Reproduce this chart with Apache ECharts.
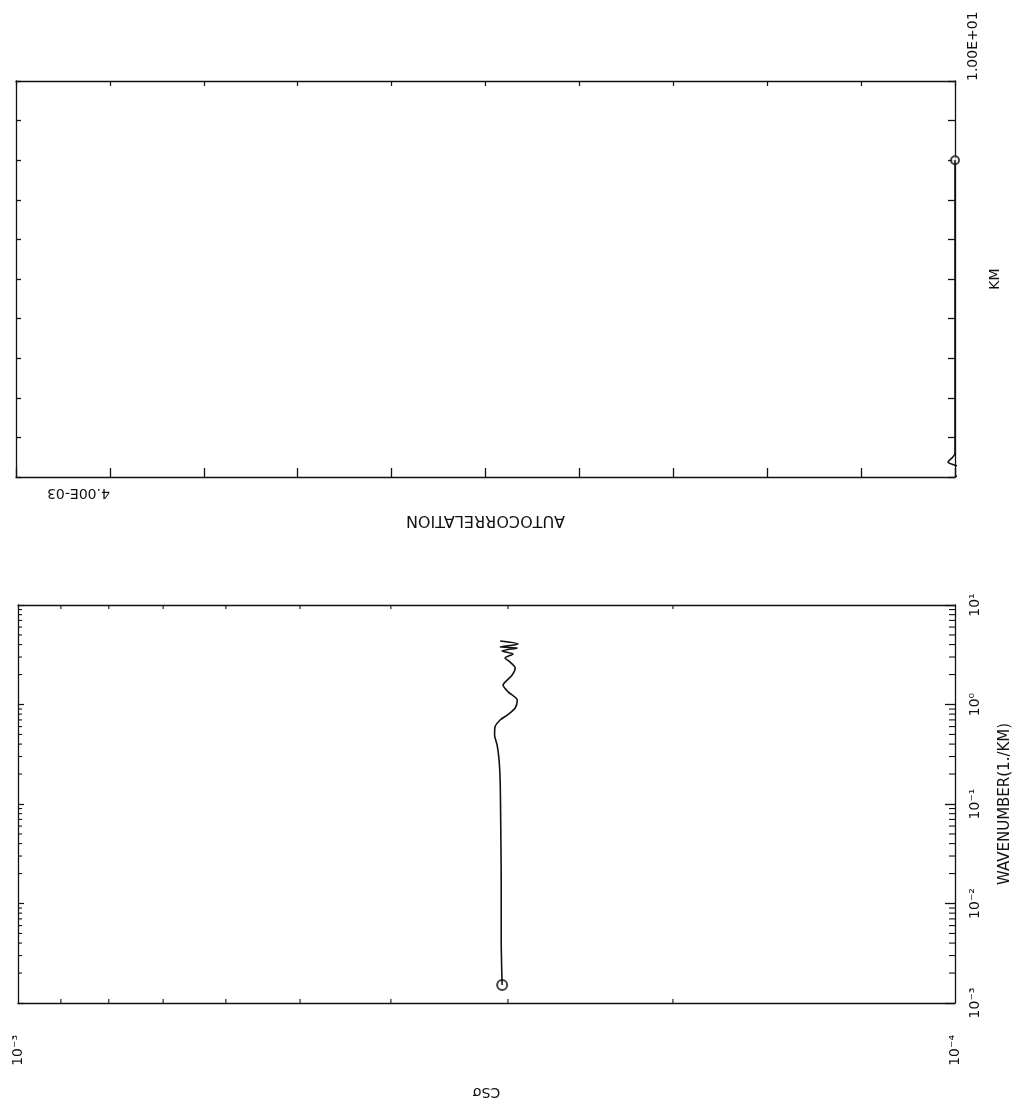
<!DOCTYPE html>
<html>
<head>
<meta charset="utf-8">
<script src="https://cdn.jsdelivr.net/npm/echarts@6/dist/echarts.min.js"></script>
<style>
html,body{margin:0;padding:0;background:#fff;}
#chart{width:1013px;height:1108px;}
</style>
</head>
<body>
<div id="chart"></div>
<script>
// ---------- Top panel: autocorrelation vs lag (km) ----------
const lagKm    = [0, 0.1, 0.23, 0.38, 0.5, 0.6, 0.8, 1, 2, 3, 4, 5, 6, 7, 8];
const autocorr = [0.0400, 0.0402, 0.0402, 0.0397, 0.0399, 0.0400, 0.0400, 0.0400,
                  0.0400, 0.0400, 0.0400, 0.0400, 0.0400, 0.0400, 0.0400];
const kmLabelValue = 10;
const kmLabelText = '1.00E+01';
const acorrLabelValue = 0.004;
const acorrLabelText = '4.00E-03';

// ---------- Bottom panel: CSσ vs wavenumber ----------
const wavenumber = [0.00152, 0.0043, 0.0172, 0.069, 0.174, 0.277, 0.392, 0.493, 0.594,
                    0.698, 0.784, 0.922, 1.11, 1.34, 1.57, 1.68, 1.98, 2.33, 2.67,
                    2.93, 3.22, 3.45, 3.70, 3.78, 4.06, 4.35];
const csSigma    = [3.043e-4, 3.050e-4, 3.050e-4, 3.054e-4, 3.058e-4, 3.066e-4, 3.081e-4,
                    3.100e-4, 3.097e-4, 3.058e-4, 3.005e-4, 2.947e-4, 2.932e-4, 2.999e-4,
                    3.036e-4, 3.021e-4, 2.969e-4, 2.947e-4, 2.984e-4, 3.021e-4, 2.962e-4,
                    3.043e-4, 2.932e-4, 3.058e-4, 2.925e-4, 3.058e-4];
const wnTickLabels = ['10⁻³', '10⁻²', '10⁻¹', '10⁰', '10¹'];
const csTickLabels = ['10⁻⁴', '10⁻³'];
const wnMinorTicks = [0.002, 0.003, 0.004, 0.005, 0.006, 0.007, 0.008, 0.009,
                      0.02, 0.03, 0.04, 0.05, 0.06, 0.07, 0.08, 0.09,
                      0.2, 0.3, 0.4, 0.5, 0.6, 0.7, 0.8, 0.9,
                      2, 3, 4, 5, 6, 7, 8, 9];
const csMinorTicks = [2e-4, 3e-4, 4e-4, 5e-4, 6e-4, 7e-4, 8e-4, 9e-4];

const INK = '#111';
const FONT = 'DejaVu Sans';
const chart = echarts.init(document.getElementById('chart'), null, {renderer: 'canvas'});

function axisBase(extra) {
  return Object.assign({
    axisLine: {show: true, onZero: false, lineStyle: {color: INK, width: 1.3}},
    splitLine: {show: false},
    axisLabel: {show: false},
    axisTick: {show: true, inside: true, length: 5, lineStyle: {color: INK, width: 1.2}}
  }, extra);
}

function expLabel(v, labels, minExp) {
  const e = Math.round(Math.log10(v));
  return labels[e - minExp] || '';
}

const option = {
  backgroundColor: '#fff',
  animation: false,
  grid: [
    {left: 16, top: 81, width: 939, height: 396, outerBoundsMode: 'none'},
    {left: 18, top: 605, width: 937, height: 398, outerBoundsMode: 'none'}
  ],
  xAxis: [
    axisBase({
      gridIndex: 0, type: 'value', position: 'bottom', min: 0, max: 0.04, interval: 0.004,
      axisTick: {show: true, inside: true, length: 9, lineStyle: {color: INK, width: 1.3}},
      axisLabel: {
        show: true, rotate: 180, align: 'left', margin: 9, color: INK,
        fontFamily: FONT, fontSize: 14,
        formatter: v => (Math.abs(v - acorrLabelValue) < 1e-9 ? acorrLabelText : '')
      },
      name: 'AUTOCORRELATION', nameLocation: 'middle', nameRotate: 180, nameGap: 35,
      nameTextStyle: {color: INK, fontFamily: FONT, fontSize: 16}
    }),
    axisBase({
      gridIndex: 0, type: 'value', position: 'top', min: 0, max: 0.04, interval: 0.004,
      axisTick: {show: true, inside: true, length: 5, lineStyle: {color: INK, width: 1.2}}
    }),
    axisBase({
      gridIndex: 1, type: 'log', logBase: 10, position: 'bottom', min: 1e-4, max: 1e-3, inverse: true,
      axisTick: {show: false},
      axisLabel: {
        show: true, rotate: 90, margin: 32, color: INK, fontFamily: FONT, fontSize: 14,
        showMinLabel: true, showMaxLabel: true,
        formatter: v => expLabel(v, csTickLabels, -4)
      },
      name: 'CSσ', nameLocation: 'middle', nameRotate: 180, nameGap: 82,
      nameTextStyle: {color: INK, fontFamily: FONT, fontSize: 14}
    }),
    axisBase({
      gridIndex: 1, type: 'log', logBase: 10, position: 'top', min: 1e-4, max: 1e-3, inverse: true,
      axisTick: {show: false}
    })
  ],
  yAxis: [
    axisBase({
      gridIndex: 0, type: 'value', position: 'right', min: 0, max: 10, interval: 1,
      axisTick: {show: true, inside: true, length: 7, lineStyle: {color: INK, width: 1.3}},
      axisLabel: {
        show: true, rotate: 90, align: 'left', margin: 11, color: INK, fontFamily: FONT, fontSize: 14,
        showMaxLabel: true,
        formatter: v => (v === kmLabelValue ? kmLabelText : '')
      },
      name: 'KM', nameLocation: 'middle', nameRotate: 90, nameGap: 28,
      nameTextStyle: {color: INK, fontFamily: FONT, fontSize: 14}
    }),
    axisBase({
      gridIndex: 0, type: 'value', position: 'left', min: 0, max: 10, interval: 1,
      axisTick: {show: true, inside: true, length: 5, lineStyle: {color: INK, width: 1.3}}
    }),
    axisBase({
      gridIndex: 1, type: 'log', logBase: 10, position: 'right', min: 1e-3, max: 10,
      axisTick: {show: true, inside: true, length: 10, lineStyle: {color: INK, width: 1.3}},
      axisLabel: {
        show: true, rotate: 90, margin: 13, color: INK, fontFamily: FONT, fontSize: 14,
        showMinLabel: true, showMaxLabel: true,
        formatter: v => expLabel(v, wnTickLabels, -3)
      },
      name: 'WAVENUMBER(1./KM)', nameLocation: 'middle', nameRotate: 90, nameGap: 43,
      nameTextStyle: {color: INK, fontFamily: FONT, fontSize: 15}
    }),
    axisBase({
      gridIndex: 1, type: 'log', logBase: 10, position: 'left', min: 1e-3, max: 10,
      axisTick: {show: true, inside: true, length: 6, lineStyle: {color: INK, width: 1.2}}
    })
  ],
  series: [
    {
      name: 'autocorrelation', type: 'line', xAxisIndex: 0, yAxisIndex: 0,
      data: lagKm.map((k, i) => [autocorr[i], k]),
      symbol: 'none', clip: false, smooth: 0.3,
      lineStyle: {color: INK, width: 1.6}
    },
    {
      name: 'autocorrelation end', type: 'scatter', xAxisIndex: 0, yAxisIndex: 0,
      data: [[autocorr[autocorr.length - 1], lagKm[lagKm.length - 1]]],
      symbol: 'emptyCircle', symbolSize: 8, clip: false,
      itemStyle: {color: INK, borderColor: INK, borderWidth: 2.5}
    },
    {
      name: 'CSσ', type: 'line', xAxisIndex: 2, yAxisIndex: 2,
      data: wavenumber.map((k, i) => [csSigma[i], k]),
      symbol: 'none', smooth: 0.25,
      lineStyle: {color: INK, width: 1.6}
    },
    {
      name: 'CSσ start', type: 'scatter', xAxisIndex: 2, yAxisIndex: 2,
      data: [[csSigma[0], wavenumber[0]]],
      symbol: 'emptyCircle', symbolSize: 10, clip: false,
      itemStyle: {color: INK, borderColor: INK, borderWidth: 2}
    },
    {
      name: 'wavenumber minor ticks', type: 'custom', xAxisIndex: 2, yAxisIndex: 2,
      silent: true, clip: false,
      data: wnMinorTicks.map(t => [1e-3, t]),
      renderItem: (params, api) => {
        const y = api.coord([api.value(0), api.value(1)])[1];
        const cs = params.coordSys;
        const st = {stroke: INK, lineWidth: 1.1};
        return {type: 'group', children: [
          {type: 'line', shape: {x1: cs.x, y1: y, x2: cs.x + 4, y2: y}, style: st},
          {type: 'line', shape: {x1: cs.x + cs.width - 6, y1: y, x2: cs.x + cs.width, y2: y}, style: st}
        ]};
      }
    },
    {
      name: 'CSσ minor ticks', type: 'custom', xAxisIndex: 2, yAxisIndex: 2,
      silent: true, clip: false,
      data: csMinorTicks.map(t => [t, 0.01]),
      renderItem: (params, api) => {
        const x = api.coord([api.value(0), api.value(1)])[0];
        const cs = params.coordSys;
        const st = {stroke: INK, lineWidth: 1.1};
        return {type: 'group', children: [
          {type: 'line', shape: {x1: x, y1: cs.y, x2: x, y2: cs.y + 4}, style: st},
          {type: 'line', shape: {x1: x, y1: cs.y + cs.height - 4, x2: x, y2: cs.y + cs.height}, style: st}
        ]};
      }
    }
  ]
};
chart.setOption(option);
</script>
</body>
</html>
